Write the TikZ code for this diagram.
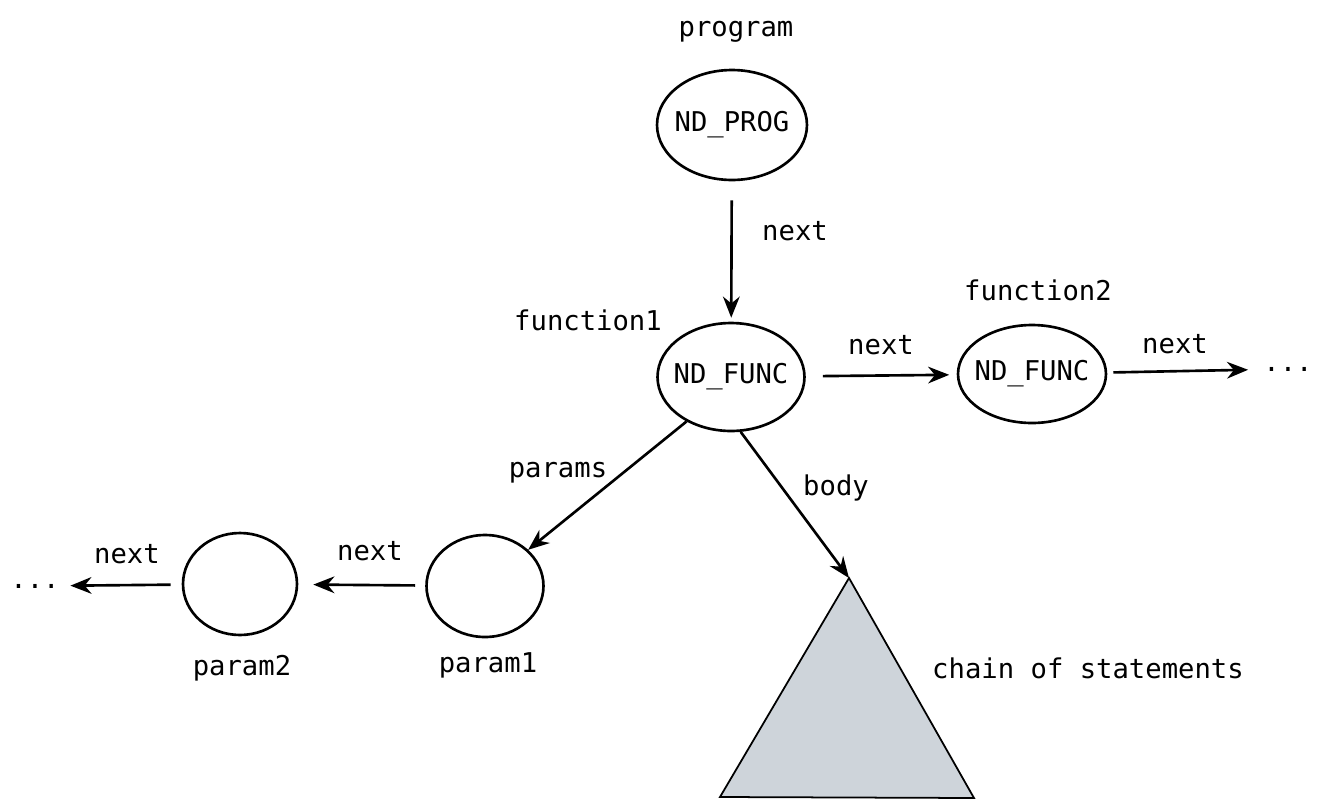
\documentclass[tikz,border=0pt]{standalone}
\usepackage{fontspec}
\setmainfont{DejaVu Sans Mono}
\usetikzlibrary{shapes.geometric,arrows.meta}
\definecolor{stmtgray}{HTML}{CED4DA}

\begin{document}
\begin{tikzpicture}[x=0.02cm,y=-0.02cm,line width=1.5pt,>={Stealth[length=12pt,width=9.5pt]},
	every node/.style={font=\fontsize{15.5}{18}\selectfont},
	nd/.style={draw,ellipse,inner xsep=-4pt,inner ysep=0pt},
	txt/.style={anchor=base},
	dots/.style={inner sep=0pt}]
					\useasboundingbox (0,0) rectangle (1323,809);
					%\draw[help lines,step=50] (0,0) grid (1323,809);
					%NODES
					\node[nd,minimum width=3.0cm,minimum height=2.2cm] (prog) at (732,125) {ND\_PROG};
					\node[nd,minimum width=2.94cm,minimum height=2.16cm] (func1) at (731,377) {ND\_FUNC};
					\node[nd,minimum width=2.96cm,minimum height=1.96cm] (func2) at (1032,374) {ND\_FUNC};
					\node[nd,minimum width=2.34cm,minimum height=2.04cm] (param1) at (485,586) {};
					\node[nd,minimum width=2.28cm,minimum height=2.04cm] (param2) at (240,584) {};
					\node[dots] (moreR) at (1288,369) {...};
					\node[dots] (moreL) at (35,586) {...};
					%STATEMENTS
					\coordinate (top) at (849,578);
					\coordinate (bl) at (720,797);
					\coordinate (br) at (974,798);
					\filldraw[fill=stmtgray,line width=1pt] (top) -- (bl) -- (br) -- cycle;
					%ARROWS
					\draw[->,shorten <=0.38cm,shorten >=0.08cm] (prog) -- (func1);
					\draw[->,shorten <=0.34cm,shorten >=0.15cm] (func1) -- (func2);
					\draw[->,shorten <=0.12cm,shorten >=0.28cm] (func2) -- (moreR);
					\draw[->] (func1.-135) -- (param1.40);
					\draw[->] (func1.-80) -- (top);
					\draw[->,shorten <=0.2cm,shorten >=0.3cm] (param1) -- (param2);
					\draw[->,shorten <=0.22cm,shorten >=0.19cm] (param2) -- (moreL);
					%LABELS
					\node[txt] (progname) at (736,36) {program};
					\node[txt] (func1name) at (588,330) {function1};
					\node[txt] (func2name) at (1038,300) {function2};
					\node[txt] (param1name) at (488,672) {param1};
					\node[txt] (param2name) at (242,675) {param2};
					\node[txt] (stmtname) at (1088,678) {chain of statements};
					\node[txt] (nextA) at (795,240) {next};
					\node[txt] (nextB) at (881,354) {next};
					\node[txt] (nextC) at (1175,353) {next};
					\node[txt] (nextD) at (370,560) {next};
					\node[txt] (nextE) at (127,563) {next};
					\node[txt] (paramsname) at (558,477) {params};
					\node[txt] (bodyname) at (836,495) {body};
	  \end{tikzpicture}
\end{document}
